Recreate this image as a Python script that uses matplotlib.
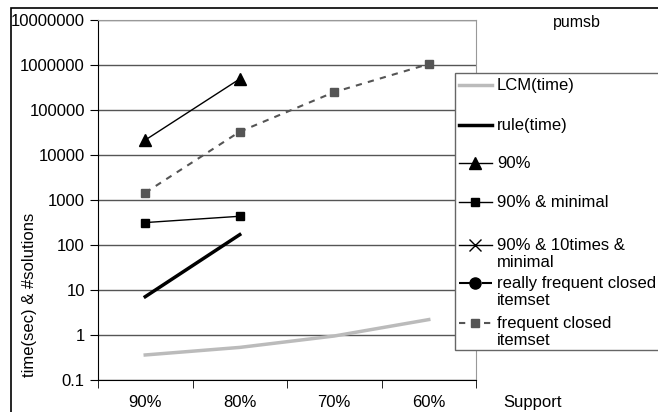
import matplotlib.pyplot as plt
from matplotlib.lines import Line2D
from matplotlib.patches import Rectangle
import numpy as np

plt.rcParams['font.family'] = ['Liberation Sans', 'DejaVu Sans']

support = ['90%', '80%', '70%', '60%']
lcm_time = [0.36, 0.53, 0.95, 2.2]
rule_time = [7.1, 170]
sol_90 = [21500, 490000]
sol_90_min = [315, 435]
freq_closed = [1450, 33000, 250000, 1050000]

legend_labels = ['LCM(time)', 'rule(time)', '90%', '90% & minimal',
                 '90% & 10times &\nminimal', 'really frequent closed\nitemset',
                 'frequent closed\nitemset']

W, H = 658, 412
fig = plt.figure(figsize=(W / 100, H / 100), dpi=100)
ax = fig.add_axes([98/W, 1-380/H, 378/W, 360/H])

x = np.arange(len(support))
ax.plot(x, lcm_time, color='#bbbbbb', lw=2.5)
ax.plot(x[:2], rule_time, color='black', lw=2.5)
ax.plot(x[:2], sol_90, color='black', lw=1, marker='^', ms=9)
ax.plot(x[:2], sol_90_min, color='black', lw=1, marker='s', ms=6)
ax.plot(x, freq_closed, color='#555555', lw=1.5, ls=(0, (3, 3)),
        marker='s', ms=6, mfc='#555555', mec='#555555')

ax.set_yscale('log')
ax.set_ylim(0.1, 1e7)
ax.set_xlim(-0.5, 3.5)
yt = [10.0**k for k in range(-1, 8)]
ax.set_yticks(yt)
ax.set_yticklabels(['0.1', '1', '10', '100', '1000', '10000', '100000',
                    '1000000', '10000000'], fontsize=12)
ax.yaxis.set_minor_locator(plt.NullLocator())
ax.grid(axis='y', color='#555555', lw=1)
ax.set_axisbelow(True)

ax.set_xticks(x)
ax.set_xticklabels(support, fontsize=12)
ax.tick_params(axis='x', which='major', length=0, pad=11)
ax.set_xticks(np.arange(-0.5, 3.6, 1), minor=True)
ax.tick_params(axis='x', which='minor', length=6, direction='out', color='black')
ax.tick_params(axis='y', length=6, color='black')

for s in ['top', 'right']:
    ax.spines[s].set_color('#999999')
for s in ['left', 'bottom']:
    ax.spines[s].set_color('black')

fig.text(30/W, 1-295/H, 'time(sec) & #solutions', rotation=90,
         ha='center', va='center', fontsize=12)
fig.text(533/W, 1-402/H, 'Support', ha='center', va='center', fontsize=12)
fig.text(577/W, 1-23/H, 'pumsb', ha='center', va='center', fontsize=11.5)

# legend drawn by hand so the entries sit where the reference has them
fig.patches.append(Rectangle((455/W, 1-350/H), 1, (350-73)/H, transform=fig.transFigure,
                             facecolor='white', edgecolor='#666666', lw=1, zorder=5))
styles = [
    dict(color='#bbbbbb', lw=2.5),
    dict(color='black', lw=2.5),
    dict(color='black', lw=1, marker='^', ms=8),
    dict(color='black', lw=1, marker='s', ms=6),
    dict(color='black', lw=1, marker='x', ms=8),
    dict(color='black', lw=1.5, marker='o', ms=8, ls=(0, (6, 2, 1, 2))),
    dict(color='#555555', lw=1.5, ls=(0, (3, 3)), marker='s', ms=6),
]
rows = [85, 125, 163, 202, 245, 283, 323]
for lab, st, py in zip(legend_labels, styles, rows):
    fy = 1 - py/H
    ln = Line2D([459/W, 475/W, 492/W], [fy, fy, fy], transform=fig.transFigure,
                markevery=[1], zorder=6, **st)
    fig.add_artist(ln)
    fig.text(497/W, fy + 7/H, lab, ha='left', va='top', fontsize=12,
             linespacing=1.15, zorder=7)

fig.patches.append(Rectangle((11/W, -0.1), 2, 1.1 - 8/H, transform=fig.transFigure,
                             fill=False, edgecolor='black', lw=1.2))

fig.savefig('out.png', dpi=100)
